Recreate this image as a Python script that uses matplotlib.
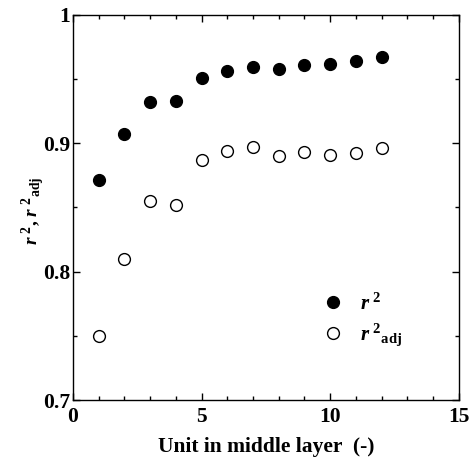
import matplotlib
matplotlib.use('Agg')
import matplotlib.pyplot as plt
from matplotlib.ticker import MultipleLocator

units = [1, 2, 3, 4, 5, 6, 7, 8, 9, 10, 11, 12]
r2 = [0.871, 0.907, 0.932, 0.933, 0.951, 0.956, 0.959, 0.958, 0.961, 0.962, 0.964, 0.967]
r2_adj = [0.750, 0.810, 0.855, 0.852, 0.887, 0.894, 0.897, 0.890, 0.893, 0.891, 0.892, 0.896]
x_ticks = [0, 5, 10, 15]
y_ticks = [0.7, 0.8, 0.9, 1.0]
y_ticklabels = ['0.7', '0.8', '0.9', '1']

plt.rcParams['font.family'] = 'Liberation Serif'
plt.rcParams['font.weight'] = 'bold'
plt.rcParams['axes.labelweight'] = 'bold'
plt.rcParams['mathtext.fontset'] = 'custom'
plt.rcParams['mathtext.rm'] = 'Liberation Serif:bold'
plt.rcParams['mathtext.it'] = 'Liberation Serif:bold:italic'
plt.rcParams['mathtext.bf'] = 'Liberation Serif:bold'


def plot():
    fig = plt.figure(figsize=(4.76, 4.62), dpi=100)
    ax = fig.add_axes([0.153, 0.134, 0.811, 0.834])
    ax.plot(units, r2, 'o', color='black', markersize=8.5, label=r'$r^{\ 2}$')
    ax.plot(units, r2_adj, 'o', markerfacecolor='white', markeredgecolor='black',
            markeredgewidth=1.0, markersize=8.5, label=r'$r^{\ 2}{}_{\rm adj}$')

    ax.set_xlim(0, 15)
    ax.set_ylim(0.7, 1.0)
    ax.set_xticks(x_ticks)
    ax.set_xticklabels([str(t) for t in x_ticks])
    ax.xaxis.set_minor_locator(MultipleLocator(1))
    ax.set_yticks(y_ticks)
    ax.set_yticklabels(y_ticklabels)
    ax.yaxis.set_minor_locator(MultipleLocator(0.05))
    ax.tick_params(which='both', direction='in', top=True, right=True, labelsize=15.5, pad=2)
    ax.tick_params(axis='x', pad=5)
    ax.tick_params(which='major', length=5, width=1)
    ax.tick_params(which='minor', length=3, width=1)
    for s in ax.spines.values():
        s.set_linewidth(1)

    ax.set_xlabel('Unit in middle layer  (-)', fontsize=15.5, labelpad=7)
    ax.set_ylabel(r'$r^{\ 2}$, $r^{\ 2}{}_{\rm adj}$', fontsize=14)
    ax.yaxis.set_label_coords(-0.068, 0.49)

    ax.legend(loc='lower left', bbox_to_anchor=(0.592, 0.107), frameon=False,
              fontsize=15, handletextpad=0.3, labelspacing=0.35, borderpad=0)

    fig.savefig('out.png', dpi=100)
    plt.close(fig)


if __name__ == "__main__":
    plot()
